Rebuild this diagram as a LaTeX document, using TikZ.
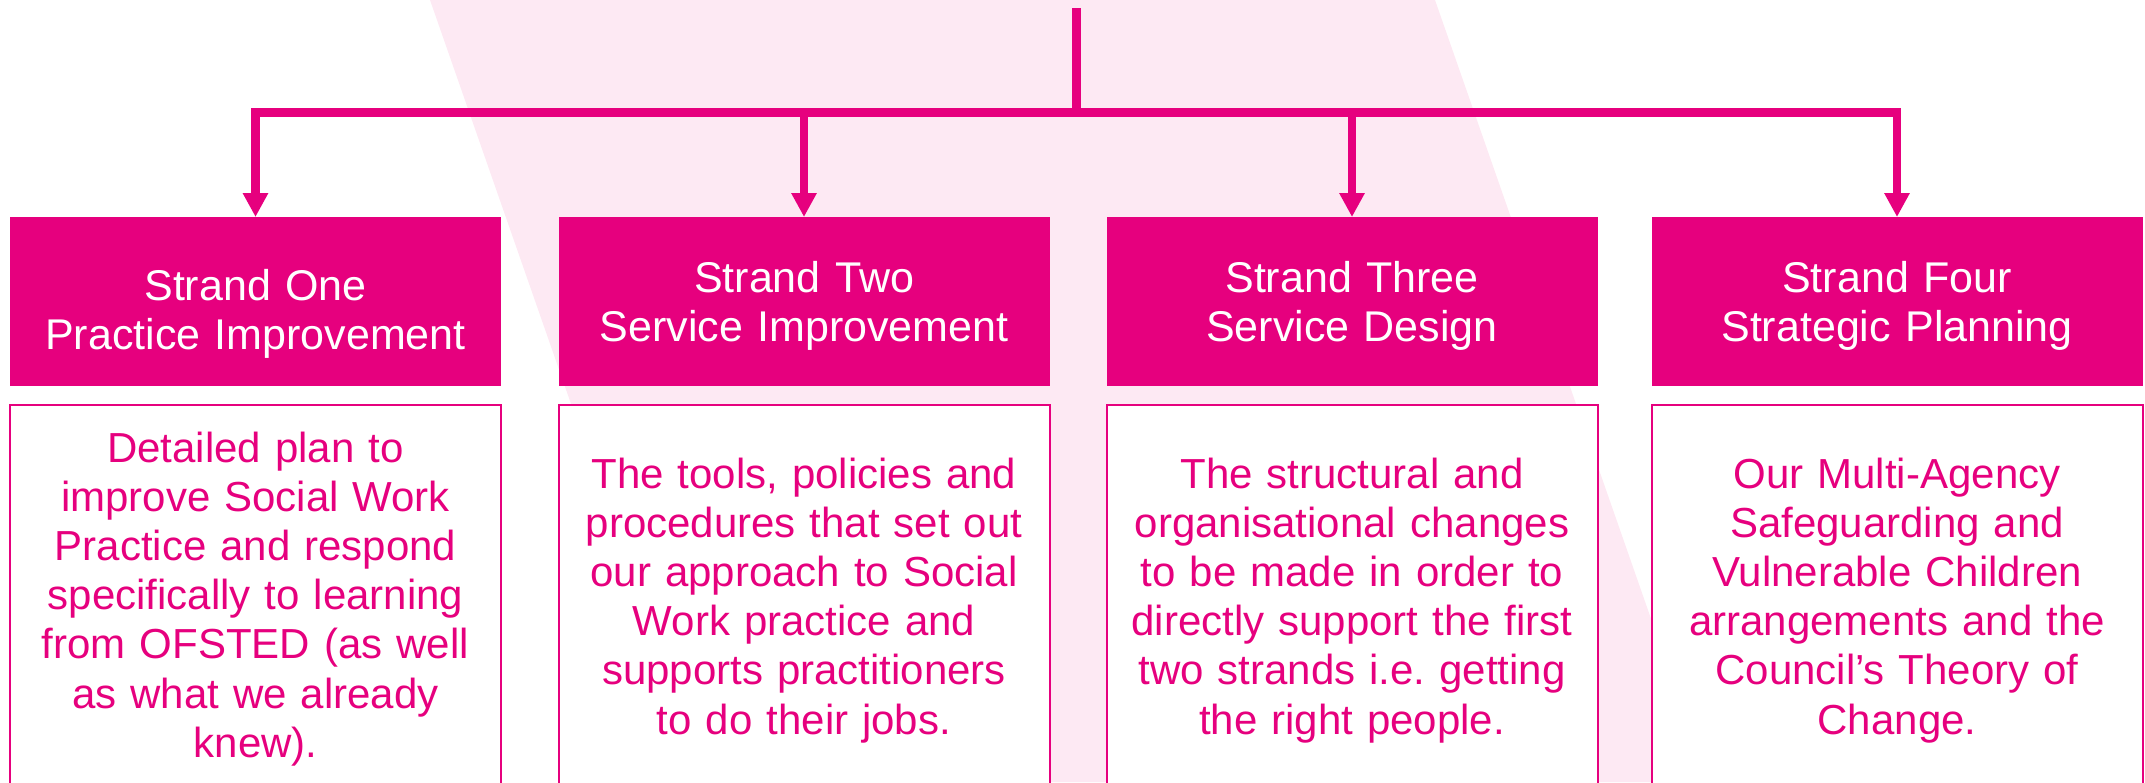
\documentclass[tikz,border=0pt]{standalone}
\usepackage{fontspec}
\setmainfont{Liberation Sans}
\usetikzlibrary{arrows.meta}
\definecolor{brand}{HTML}{E6007E}
\definecolor{stripe}{HTML}{FDE9F3}
\frenchspacing
\begin{document}
\begin{tikzpicture}[x=0.5pt,y=-0.5pt,
  conn/.style={draw=brand,line width=4.3pt},
  arr/.style={conn,-{Triangle[length=12pt,width=12pt]}},
  headbox/.style={fill=brand,minimum width=245.5pt,minimum height=84.5pt,inner sep=0pt,outer sep=0pt},
  bodybox/.style={draw=brand,fill=white,line width=1pt,minimum width=245.5pt,minimum height=210pt,inner sep=0pt,outer sep=0pt,anchor=north},
  headtext/.style={text=white,font=\fontsize{21.5pt}{24.7pt}\selectfont,align=center,text width=240pt,anchor=base,inner sep=0pt},
  bodytext/.style={text=brand,font=\fontsize{21pt}{24.6pt}\selectfont,align=center,text width=240pt,anchor=base,inner sep=0pt}]
\useasboundingbox (0,0) rectangle (2145,782);
\clip (0,0) rectangle (2145,782);
% background stripe
\fill[stripe] (430,0) -- (1435,0) -- (1708,782) -- (703,782) -- cycle;
% header boxes
\node[headbox] (h1) at (255.5,301.5) {};
\node[headbox] (h2) at (804,301.5) {};
\node[headbox] (h3) at (1352,301.5) {};
\node[headbox] (h4) at (1897,301.5) {};
\node[headtext] (t1) at (255.5,300) {Strand One\\Practice Improvement};
\node[headtext] (t2) at (804,292) {Strand Two\\Service Improvement};
\node[headtext] (t3) at (1352,292) {Strand Three\\Service Design};
\node[headtext] (t4) at (1897,292) {Strand Four\\Strategic Planning};
% body boxes
\node[bodybox] (b1) at (255.5,405) {};
\node[bodybox] (b2) at (804,405) {};
\node[bodybox] (b3) at (1352,405) {};
\node[bodybox] (b4) at (1897,405) {};
\node[bodytext] (d1) at (255.5,462) {Detailed plan to\\improve Social Work\\Practice and respond\\specifically to learning\\from OFSTED (as well\\as what we already\\knew).};
\node[bodytext] (d2) at (804,488) {The tools, policies and\\procedures that set out\\our approach to Social\\Work practice and\\supports practitioners\\to do their jobs.};
\node[bodytext] (d3) at (1352,488) {The structural and\\organisational changes\\to be made in order to\\directly support the first\\two strands i.e. getting\\the right people.};
\node[bodytext] (d4) at (1897,488) {Our Multi-Agency\\Safeguarding and\\Vulnerable Children\\arrangements and the\\Council’s Theory of\\Change.};
% connectors
\coordinate (top) at (1076.5,8);
\coordinate (hub) at (1076.5,112.5);
\draw[conn] (top) -- (hub);
\draw[arr] (hub) -| (h1.north);
\draw[arr] (hub) -| (h2.north);
\draw[arr] (hub) -| (h3.north);
\draw[arr] (hub) -| (h4.north);
\end{tikzpicture}
\end{document}
